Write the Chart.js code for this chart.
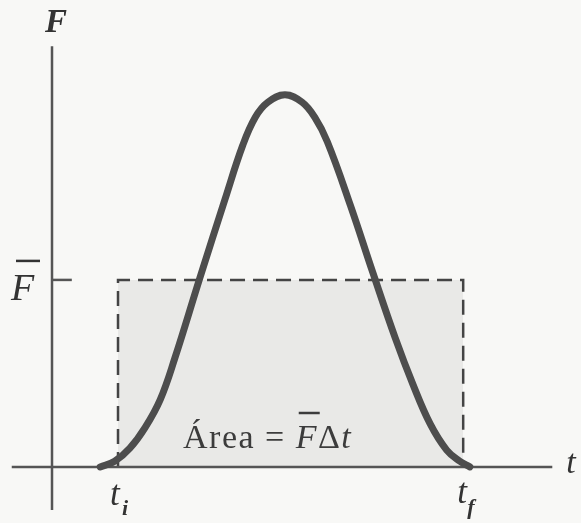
<!DOCTYPE html>
<html>
<head>
<meta charset="utf-8">
<script src="https://cdn.jsdelivr.net/npm/chart.js@4/dist/chart.umd.min.js"></script>
<style>
html, body { margin: 0; padding: 0; background: #f8f8f6; }
canvas { display: block; }
</style>
</head>
<body>
<canvas id="impulseChart" width="581" height="523"></canvas>
<script>
// force pulse F(t) (t: arbitrary units, F in units of F-bar)
const curveTime  = [0.73, 0.95, 1.18, 1.41, 1.64, 1.86, 2.24, 2.62, 2.89, 3.08, 3.27, 3.53, 3.79, 3.98, 4.17, 4.52, 4.86, 5.20, 5.47, 5.73, 5.98, 6.18, 6.33];
const curveForce = [0.00, 0.03, 0.10, 0.21, 0.36, 0.58, 1.01, 1.43, 1.72, 1.87, 1.95, 1.99, 1.95, 1.87, 1.74, 1.40, 1.04, 0.69, 0.44, 0.23, 0.09, 0.03, 0.00];

// average force rectangle
const boxTime  = [1.0, 1.0, 6.23, 6.23];
const boxForce = [0, 1.0, 1.0, 0];

// axes and the F-bar tick
const xAxisTime  = [-0.61, 7.58];
const xAxisForce = [0, 0];
const yAxisTime  = [0, 0];
const yAxisForce = [-0.23, 2.25];
const tickTime  = [0, 0.3];
const tickForce = [1.0, 1.0];

const toPoints = (xs, ys) => xs.map((x, i) => ({ x: x, y: ys[i] }));

const serif = "'Liberation Serif', 'DejaVu Serif', serif";

function overbar(ctx, x1, x2, y) {
    ctx.beginPath();
    ctx.moveTo(x1, y);
    ctx.lineTo(x2, y);
    ctx.stroke();
}

const labelsPlugin = {
    id: 'labels',
    beforeDraw(chart) {
        const ctx = chart.ctx;
        ctx.save();
        ctx.fillStyle = '#f8f8f6';
        ctx.fillRect(0, 0, chart.width, chart.height);
        ctx.restore();
    },
    afterDatasetsDraw(chart) {
        const ctx = chart.ctx;
        const xs = chart.scales.x, ys = chart.scales.y;
        const x0 = xs.getPixelForValue(0);
        const y0 = ys.getPixelForValue(0);
        const yTop = ys.getPixelForValue(yAxisForce[1]);
        const xEnd = xs.getPixelForValue(xAxisTime[1]);
        const yAvg = ys.getPixelForValue(boxForce[1]);
        const xi = xs.getPixelForValue(boxTime[0]);
        const xf = xs.getPixelForValue(boxTime[2]);

        ctx.save();
        ctx.fillStyle = '#333';
        ctx.strokeStyle = '#333';
        ctx.lineWidth = 2.5;
        ctx.textBaseline = 'alphabetic';

        // axis names
        ctx.font = 'italic bold 33px ' + serif;
        ctx.fillText('F', x0 - 7, yTop - 14);
        ctx.font = 'italic 34px ' + serif;
        ctx.fillText('t', xEnd + 14, y0 + 6);

        // F-bar on the vertical axis
        ctx.font = 'italic 38px ' + serif;
        ctx.fillText('F', x0 - 41, yAvg + 20);
        overbar(ctx, x0 - 36, x0 - 12, yAvg - 19);

        // t_i and t_f
        ctx.font = 'italic 35px ' + serif;
        ctx.fillText('t', xi - 8, y0 + 38);
        ctx.fillText('t', xf - 6, y0 + 36);
        ctx.font = 'italic bold 22px ' + serif;
        ctx.fillText('i', xi + 4, y0 + 48);
        ctx.fillText('f', xf + 4, y0 + 47);

        // area label
        ctx.fillStyle = '#3c3c3c';
        ctx.strokeStyle = '#3c3c3c';
        ctx.letterSpacing = '1.5px';
        let x = 183, y = 448;
        ctx.font = '34px ' + serif;
        ctx.fillText('Área = ', x, y);
        x += ctx.measureText('Área = ').width;
        ctx.font = 'italic 34px ' + serif;
        ctx.fillText('F', x, y);
        ctx.lineWidth = 2.5;
        overbar(ctx, x + 3, x + 24, y - 35);
        x += ctx.measureText('F').width;
        ctx.font = '34px ' + serif;
        ctx.fillText('Δ', x, y);
        x += ctx.measureText('Δ').width;
        ctx.font = 'italic 34px ' + serif;
        ctx.fillText('t', x, y);
        ctx.restore();
    }
};

new Chart(document.getElementById('impulseChart').getContext('2d'), {
    type: 'scatter',
    data: {
        datasets: [
            {
                data: toPoints(boxTime, boxForce),
                order: 5,
                showLine: true,
                fill: 'origin',
                backgroundColor: '#e9e9e7',
                borderColor: '#444',
                borderWidth: 2.5,
                borderDash: [15, 8],
                pointRadius: 0,
                tension: 0
            },
            {
                data: toPoints(curveTime, curveForce),
                order: 1,
                showLine: true,
                fill: false,
                borderColor: '#4d4d4d',
                borderWidth: 7,
                pointRadius: 0,
                tension: 0.4,
                borderCapStyle: 'round',
                borderJoinStyle: 'round'
            },
            {
                data: toPoints(xAxisTime, xAxisForce),
                order: 2,
                showLine: true,
                borderColor: '#555',
                borderWidth: 2.5,
                pointRadius: 0
            },
            {
                data: toPoints(yAxisTime, yAxisForce),
                order: 2,
                showLine: true,
                borderColor: '#555',
                borderWidth: 2.5,
                pointRadius: 0
            },
            {
                data: toPoints(tickTime, tickForce),
                order: 2,
                showLine: true,
                borderColor: '#555',
                borderWidth: 2.5,
                pointRadius: 0
            }
        ]
    },
    options: {
        responsive: false,
        animation: false,
        layout: { padding: 0 },
        plugins: {
            legend: { display: false },
            tooltip: { enabled: false }
        },
        scales: {
            x: { type: 'linear', min: -0.788, max: 8.015, display: false },
            y: { type: 'linear', min: -0.30, max: 2.497, display: false }
        }
    },
    plugins: [labelsPlugin]
});
</script>
</body>
</html>
